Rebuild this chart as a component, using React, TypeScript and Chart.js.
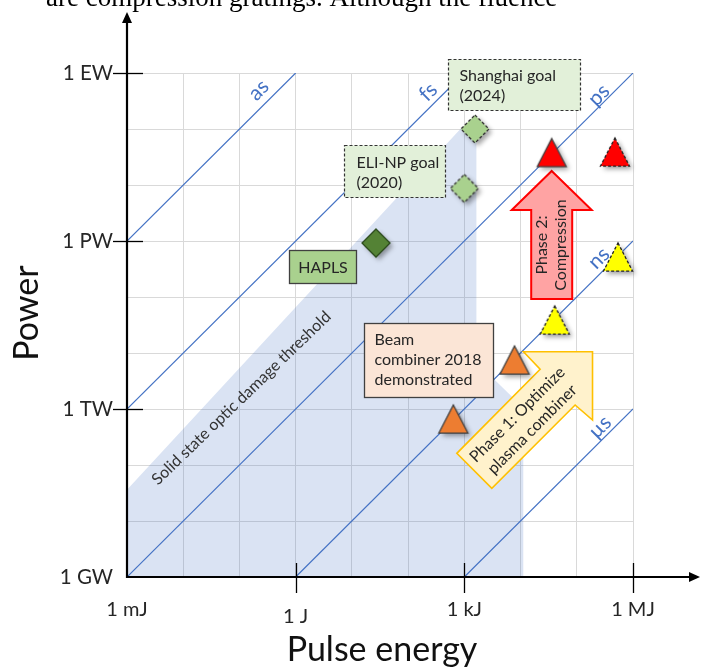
import React, { useEffect, useRef } from 'react';
import { Chart, registerables } from 'chart.js';

Chart.register(...registerables);

const FONT = 'Lato, "Open Sans", "DejaVu Sans", sans-serif';
const TEXT = '#262626';

// ---- axes (log10 exponents of J and W) ----
const energyExps = [-3, -2, -1, 0, 1, 2, 3, 4, 5, 6];
const energyTickLabels = ['1 mJ', '', '', '1 J', '', '', '1 kJ', '', '', '1 MJ'];
const powerExps = [9, 10, 11, 12, 13, 14, 15, 16, 17, 18];
const powerTickLabels = ['1 GW', '', '', '1 TW', '', '', '1 PW', '', '', '1 EW'];

// ---- iso pulse-duration lines (endpoints, J and W) ----
const durationNames = ['as', 'fs', 'ps', 'ns', 'µs'];
const durationStartE = [1e-3, 1e-3, 1e-3, 1, 1e3];
const durationStartP = [1e15, 1e12, 1e9, 1e9, 1e9];
const durationEndE = [1, 1e3, 1e6, 1e6, 1e6];
const durationEndP = [1e18, 1e18, 1e18, 1e15, 1e12];

// ---- solid state optic damage threshold region (upper outline) ----
const thresholdE = [1e-3, 1e-3, 883, 1640, 1640, 11300, 11300];
const thresholdP = [1e9, 3.6e10, 1.04e17, 1.04e17, 6.9e12, 1.04e12, 1e9];

// ---- facilities / goals ----
const haplsE = [26.8];
const haplsP = [9.2e14];
const goalE = [1000, 1540];
const goalP = [8.7e15, 1.0e17];
const phase2E = [3.58e4];
const phase2P = [3.8e16];
const phase2FutureE = [4.77e5];
const phase2FutureP = [3.88e16];
const yellowE = [5.4e5, 4.05e4];
const yellowP = [5.18e14, 3.88e13];
const combinerE = [7.82e3, 637];
const combinerP = [7.5e12, 6.63e11];

const expOf = (v: number) => Math.round(Math.log10(v));
const pts = (E: number[], P: number[]) => E.map((e, i) => ({ x: e, y: P[i] }));

function makeMarker(shape: 'diamond' | 'triangle', fill: string, stroke: string, dashed: boolean, size: number) {
  const c = document.createElement('canvas');
  c.width = 56;
  c.height = 56;
  const g = c.getContext('2d')!;
  const cx = 28, cy = 28;
  const path = () => {
    g.beginPath();
    if (shape === 'diamond') {
      g.moveTo(cx, cy - size);
      g.lineTo(cx + size, cy);
      g.lineTo(cx, cy + size);
      g.lineTo(cx - size, cy);
    } else {
      const w = size, h = size * 0.97;
      g.moveTo(cx, cy - h / 2);
      g.lineTo(cx + w / 2, cy + h / 2);
      g.lineTo(cx - w / 2, cy + h / 2);
    }
    g.closePath();
  };
  g.save();
  g.shadowColor = 'rgba(0,0,0,0.38)';
  g.shadowBlur = 5;
  g.shadowOffsetX = 3;
  g.shadowOffsetY = 3;
  path();
  g.fillStyle = fill;
  g.fill();
  g.restore();
  path();
  g.lineWidth = 1.3;
  g.strokeStyle = stroke;
  g.setLineDash(dashed ? [3, 2] : []);
  g.stroke();
  return c;
}

// annotation layout (u = log10 J, v = log10 W for anchors; sizes in px)
const boxes = [
  { lines: ['Shanghai goal', '(2024)'], u: 2.714, v: 18.25, w: 132, h: 51, fill: '#E2F0D9', dash: true, padX: 11, firstY: 16, center: false },
  { lines: ['ELI-NP goal', '(2020)'], u: 0.857, v: 16.714, w: 101, h: 52, fill: '#E2F0D9', dash: true, padX: 12, firstY: 17, center: false },
  { lines: ['HAPLS'], u: -0.125, v: 14.839, w: 67, h: 33, fill: '#A9D18E', dash: false, padX: 0, firstY: 17, center: true },
  { lines: ['Beam', 'combiner 2018', 'demonstrated'], u: 1.214, v: 13.536, w: 129, h: 74, fill: '#FBE5D6', dash: false, padX: 10, firstY: 16, center: false },
];
const durationLabelPos = [
  { u: -0.661, v: 17.696 },
  { u: 2.357, v: 17.661 },
  { u: 5.393, v: 17.607 },
  { u: 5.393, v: 14.696 },
  { u: 5.411, v: 11.679 },
];

function drawNotes(chart: any) {
  const { ctx, scales } = chart;
  const xs = scales.x, ys = scales.y;
  const X = (u: number) => xs.getPixelForValue(Math.pow(10, u));
  const Y = (v: number) => ys.getPixelForValue(Math.pow(10, v));
  ctx.save();

  // duration labels
  ctx.fillStyle = '#4472C4';
  ctx.font = `21px ${FONT}`;
  ctx.textAlign = 'center';
  ctx.textBaseline = 'middle';
  durationNames.forEach((n, i) => {
    ctx.save();
    ctx.translate(X(durationLabelPos[i].u), Y(durationLabelPos[i].v));
    ctx.rotate(-Math.PI / 4);
    ctx.fillText(n, 0, 0);
    ctx.restore();
  });

  // threshold label
  ctx.save();
  ctx.translate(X(-0.964), Y(12.196));
  ctx.rotate((-44 * Math.PI) / 180);
  ctx.fillStyle = '#333';
  ctx.font = `16px ${FONT}`;
  ctx.fillText('Solid state optic damage threshold', 0, 0);
  ctx.restore();

  // boxes
  boxes.forEach((b) => {
    const x = Math.round(X(b.u)) + 0.5, y = Math.round(Y(b.v)) + 0.5;
    ctx.fillStyle = b.fill;
    ctx.fillRect(x, y, b.w, b.h);
    ctx.lineWidth = b.dash ? 1.2 : 1.3;
    ctx.strokeStyle = b.dash ? '#333' : '#404040';
    ctx.setLineDash(b.dash ? [3, 2] : []);
    ctx.strokeRect(x, y, b.w, b.h);
    ctx.setLineDash([]);
    ctx.fillStyle = TEXT;
    ctx.font = `16px ${FONT}`;
    ctx.textBaseline = 'middle';
    ctx.textAlign = b.center ? 'center' : 'left';
    b.lines.forEach((t, i) => {
      ctx.fillText(t, b.center ? x + b.w / 2 : x + b.padX, y + b.firstY + i * 20);
    });
  });

  // Phase 2 arrow (vertical)
  {
    const tx = X(4.554), ty = Y(16.25);
    const p = [[0, 0], [40, 39], [20.5, 39], [20.5, 128], [-20.5, 128], [-20.5, 39], [-40, 39]];
    ctx.beginPath();
    p.forEach(([dx, dy], i) => (i ? ctx.lineTo(tx + dx, ty + dy) : ctx.moveTo(tx + dx, ty + dy)));
    ctx.closePath();
    ctx.fillStyle = '#FFA3A3';
    ctx.fill();
    ctx.strokeStyle = '#FF0000';
    ctx.lineWidth = 2;
    ctx.stroke();
    ctx.save();
    ctx.translate(tx, ty + 74);
    ctx.rotate(-Math.PI / 2);
    ctx.fillStyle = TEXT;
    ctx.font = `16px ${FONT}`;
    ctx.textAlign = 'center';
    ctx.textBaseline = 'middle';
    ctx.fillText('Phase 2:', 0, -9.5);
    ctx.fillText('Compression', 0, 9.5);
    ctx.restore();
  }

  // Phase 1 arrow (diagonal)
  {
    const tx = X(5.28), ty = Y(13.023);
    const p = [[0, 0], [0, 68.3], [-17.4, 53.3], [-100.7, 136.6], [-135.7, 101.6], [-52.4, 17.6], [-69, 0]];
    ctx.beginPath();
    p.forEach(([dx, dy], i) => (i ? ctx.lineTo(tx + dx, ty + dy) : ctx.moveTo(tx + dx, ty + dy)));
    ctx.closePath();
    ctx.fillStyle = '#FFF2CC';
    ctx.fill();
    ctx.strokeStyle = '#FFC000';
    ctx.lineWidth = 1.6;
    ctx.stroke();
    ctx.save();
    ctx.translate(tx - 67.7, ty + 70.3);
    ctx.rotate(-Math.PI / 4);
    ctx.fillStyle = TEXT;
    ctx.font = `16px ${FONT}`;
    ctx.textAlign = 'center';
    ctx.textBaseline = 'middle';
    ctx.fillText('Phase 1: Optimize', 0, -10.5);
    ctx.fillText('plasma combiner', 0, 10.5);
    ctx.restore();
  }
  ctx.restore();
}

const notesPlugin = {
  id: 'notes',
  beforeDatasetsDraw(chart: any) {
    chart.$notesDone = false;
  },
  beforeDatasetDraw(chart: any, args: any) {
    const ds = chart.data.datasets[args.index];
    if (!chart.$notesDone && String(ds.label).startsWith('marker')) {
      drawNotes(chart);
      chart.$notesDone = true;
    }
  },
  afterDraw(chart: any) {
    const { ctx, chartArea: a, scales } = chart;
    const xs = scales.x, ys = scales.y;
    ctx.save();
    // ticks crossing the axes
    ctx.strokeStyle = '#000';
    ctx.lineWidth = 1.3;
    [0, 3, 6].forEach((e) => {
      const x = Math.round(xs.getPixelForValue(Math.pow(10, e))) + 0.5;
      ctx.beginPath();
      ctx.moveTo(x, a.bottom - 14);
      ctx.lineTo(x, a.bottom + 16);
      ctx.stroke();
    });
    [12, 15, 18].forEach((e) => {
      const y = Math.round(ys.getPixelForValue(Math.pow(10, e))) + 0.5;
      ctx.beginPath();
      ctx.moveTo(a.left - 14, y);
      ctx.lineTo(a.left + 16, y);
      ctx.stroke();
    });
    // axes with arrows
    ctx.lineWidth = 2.2;
    ctx.beginPath();
    ctx.moveTo(a.left, a.bottom);
    ctx.lineTo(a.right + 58, a.bottom);
    ctx.moveTo(a.left, a.bottom + 1);
    ctx.lineTo(a.left, a.top - 52);
    ctx.stroke();
    ctx.fillStyle = '#000';
    ctx.beginPath();
    ctx.moveTo(a.right + 67, a.bottom);
    ctx.lineTo(a.right + 56, a.bottom - 5);
    ctx.lineTo(a.right + 56, a.bottom + 5);
    ctx.closePath();
    ctx.fill();
    ctx.beginPath();
    ctx.moveTo(a.left, a.top - 61);
    ctx.lineTo(a.left - 5, a.top - 50);
    ctx.lineTo(a.left + 5, a.top - 50);
    ctx.closePath();
    ctx.fill();
    // axis titles
    ctx.fillStyle = '#111';
    ctx.font = `34px ${FONT}`;
    ctx.textAlign = 'center';
    ctx.textBaseline = 'middle';
    ctx.fillText('Pulse energy', (a.left + a.right) / 2 + 2, a.bottom + 73);
    ctx.save();
    ctx.translate(a.left - 100, a.top + 240);
    ctx.rotate(-Math.PI / 2);
    ctx.fillText('Power', 0, 0);
    ctx.restore();
    // cropped document text above the figure
    ctx.font = '27px "Liberation Serif", serif';
    ctx.textAlign = 'left';
    ctx.textBaseline = 'alphabetic';
    ctx.fillStyle = '#000';
    ctx.fillText('are compression gratings. Although the fluence', 46, 6);
    ctx.restore();
  },
};

export default function App() {
  const ref = useRef<HTMLCanvasElement>(null);
  useEffect(() => {
    const canvas = ref.current!;
    const mHapls = makeMarker('diamond', '#548235', '#2B4A1C', false, 14);
    const mGoal = makeMarker('diamond', '#A9D18E', '#333', true, 14);
    const mRed = makeMarker('triangle', '#FF0000', '#404040', false, 29);
    const mRedDash = makeMarker('triangle', '#FF0000', '#222', true, 29);
    const mYellow = makeMarker('triangle', '#FFFF00', '#222', true, 29);
    const mOrange = makeMarker('triangle', '#ED7D31', '#404040', false, 29);

    const markerDs = (label: string, E: number[], P: number[], img: HTMLCanvasElement) => ({
      label: 'marker ' + label,
      type: 'scatter' as const,
      data: pts(E, P),
      pointStyle: img,
      pointRadius: 14,
      pointHoverRadius: 14,
      clip: false as any,
      order: 0,
    });

    const chart = new Chart(canvas, {
      type: 'scatter',
      data: {
        datasets: [
          {
            label: 'threshold',
            type: 'line',
            data: pts(thresholdE, thresholdP),
            fill: 'start',
            backgroundColor: 'rgba(68,114,196,0.2)',
            borderWidth: 0,
            borderColor: 'rgba(0,0,0,0)',
            pointRadius: 0,
            tension: 0,
            order: 10,
          } as any,
          ...durationNames.map((n, i) => ({
            label: n,
            type: 'line' as const,
            data: [
              { x: durationStartE[i], y: durationStartP[i] },
              { x: durationEndE[i], y: durationEndP[i] },
            ],
            borderColor: '#4472C4',
            borderWidth: 1.2,
            pointRadius: 0,
            fill: false,
            order: 5,
          })),
          markerDs('HAPLS', haplsE, haplsP, mHapls),
          markerDs('goals', goalE, goalP, mGoal),
          markerDs('phase2', phase2E, phase2P, mRed),
          markerDs('phase2future', phase2FutureE, phase2FutureP, mRedDash),
          markerDs('yellow', yellowE, yellowP, mYellow),
          markerDs('combiner', combinerE, combinerP, mOrange),
        ] as any,
      },
      options: {
        responsive: false,
        maintainAspectRatio: false,
        animation: false,
        devicePixelRatio: 1,
        events: [],
        layout: { padding: { left: 0, right: 69, top: 73, bottom: 0 } },
        plugins: { legend: { display: false }, tooltip: { enabled: false } },
        scales: {
          x: {
            type: 'logarithmic',
            position: 'bottom',
            min: 1e-3,
            max: 1e6,
            afterBuildTicks: (s: any) => {
              s.ticks = energyExps.map((e) => ({ value: Math.pow(10, e) }));
            },
            afterFit: (s: any) => {
              s.height = 92;
            },
            grid: { color: '#D9D9D9', lineWidth: 1, drawTicks: false },
            border: { display: false },
            ticks: {
              autoSkip: false,
              maxRotation: 0,
              minRotation: 0,
              padding: 21,
              color: TEXT,
              font: (c: any) => ({
                family: FONT,
                size: 20,
                lineHeight: c.tick && expOf(c.tick.value) === 0 ? 1.9 : 1.2,
              }),
              callback: (v: any) => energyTickLabels[energyExps.indexOf(expOf(Number(v)))] ?? '',
            },
          },
          y: {
            type: 'logarithmic',
            position: 'left',
            min: 1e9,
            max: 1e18,
            afterBuildTicks: (s: any) => {
              s.ticks = powerExps.map((e) => ({ value: Math.pow(10, e) }));
            },
            afterFit: (s: any) => {
              s.width = 127;
            },
            grid: { color: '#D9D9D9', lineWidth: 1, drawTicks: false },
            border: { display: false },
            ticks: {
              autoSkip: false,
              padding: 14,
              color: TEXT,
              font: { family: FONT, size: 20.5 },
              callback: (v: any) => powerTickLabels[powerExps.indexOf(expOf(Number(v)))] ?? '',
            },
          },
        },
      } as any,
      plugins: [notesPlugin],
    });
    return () => chart.destroy();
  }, []);

  return (
    <div style={{ position: 'fixed', left: 0, top: 0, width: 702, height: 669, background: '#fff' }}>
      <canvas ref={ref} width={702} height={669} style={{ display: 'block', width: 702, height: 669 }} />
    </div>
  );
}
